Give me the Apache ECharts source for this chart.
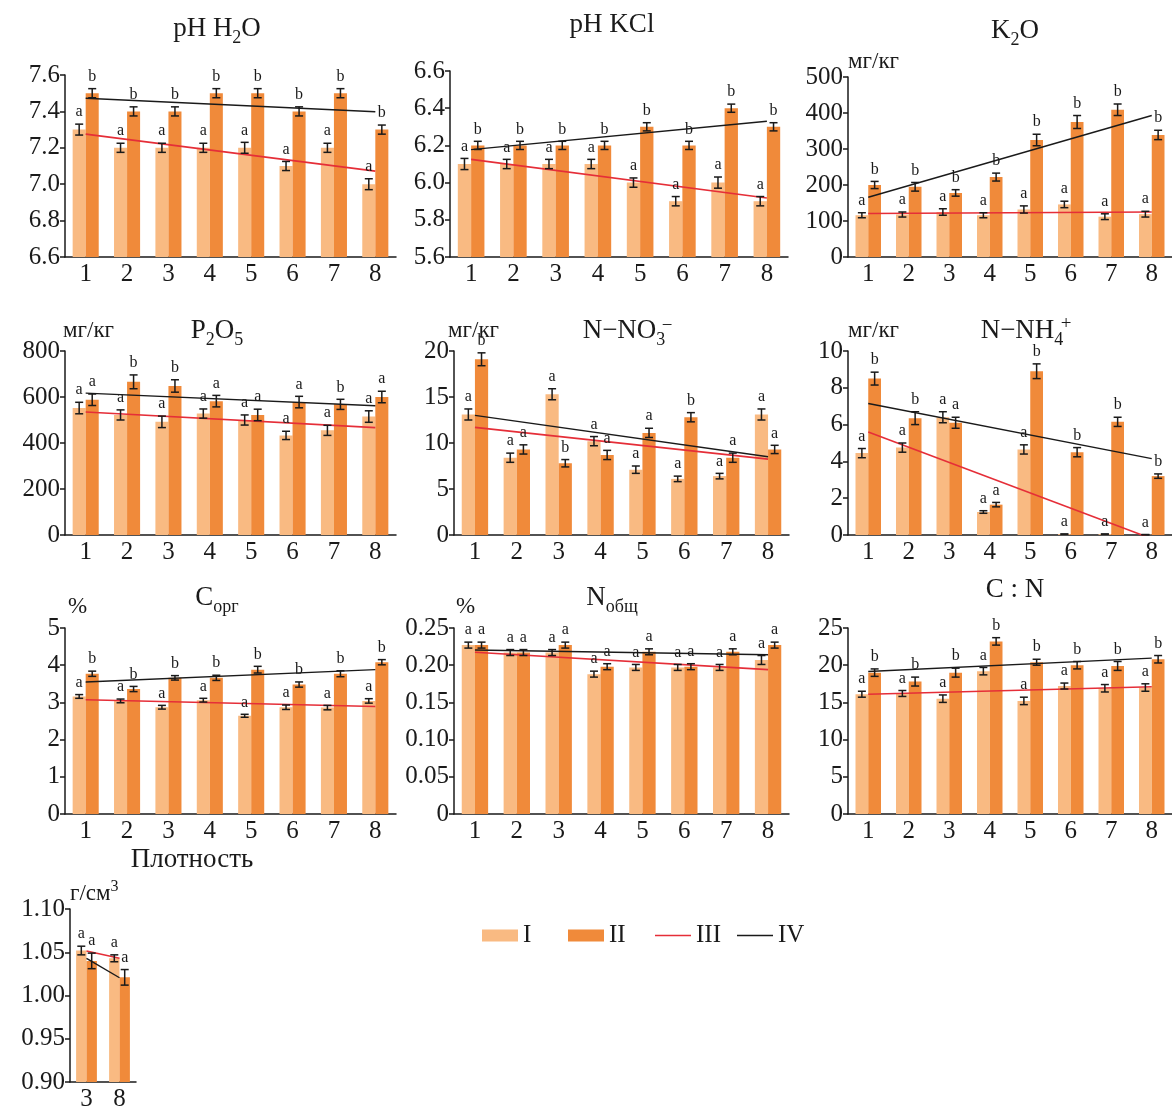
<!DOCTYPE html>
<html><head><meta charset="utf-8">
<script src="https://cdn.jsdelivr.net/npm/echarts@6/dist/echarts.min.js"></script>
<style>html,body{margin:0;padding:0;background:#fff}#c{width:1172px;height:1112px}</style>
</head><body><div id="c"></div>
<script>
// ---------- DATA ----------
const cats = ['1','2','3','4','5','6','7','8'];
const densityCats = ['3','8'];

// pH H2O
const phH2O_I = [7.3,7.2,7.2,7.2,7.2,7.1,7.2,7.0];
const phH2O_II = [7.5,7.4,7.4,7.5,7.5,7.4,7.5,7.3];
const phH2O_errI = [0.03,0.025,0.025,0.025,0.03,0.025,0.025,0.03];
const phH2O_errII = [0.025,0.025,0.025,0.025,0.025,0.025,0.025,0.025];
const phH2O_letI = ['a','a','a','a','a','a','a','a'];
const phH2O_letII = ['b','b','b','b','b','b','b','b'];
const phH2O_III = [7.275, 7.072];
const phH2O_IV = [7.472, 7.398];

// pH KCl
const phKCl_I = [6.1,6.1,6.1,6.1,6.0,5.9,6.0,5.9];
const phKCl_II = [6.2,6.2,6.2,6.2,6.3,6.2,6.4,6.3];
const phKCl_errI = [0.03,0.025,0.025,0.025,0.025,0.025,0.03,0.025];
const phKCl_errII = [0.022,0.022,0.022,0.022,0.022,0.022,0.022,0.022];
const phKCl_letI = ['a','a','a','a','a','a','a','a'];
const phKCl_letII = ['b','b','b','b','b','b','b','b'];
const phKCl_III = [6.125, 5.917];
const phKCl_IV = [6.177, 6.330];

// K2O, mg/kg
const k2o_I = [116,118,125,116,132,146,112,119];
const k2o_II = [200,195,178,222,325,375,409,339];
const k2o_errI = [7,7,9,7,10,9,8,8];
const k2o_errII = [10,12,9,11,16,18,16,13];
const k2o_letI = ['a','a','a','a','a','a','a','a'];
const k2o_letII = ['b','b','b','b','b','b','b','b'];
const k2o_III = [121, 125];
const k2o_IV = [166, 393];

// P2O5, mg/kg
const p2o5_I = [552,522,492,528,500,433,455,515];
const p2o5_II = [588,666,648,582,522,578,568,600];
const p2o5_errI = [25,22,25,20,22,18,22,25];
const p2o5_errII = [25,30,27,25,25,25,22,25];
const p2o5_letI = ['a','a','a','a','a','a','a','a'];
const p2o5_letII = ['a','b','b','a','a','a','b','a'];
const p2o5_III = [535, 467];
const p2o5_IV = [617, 562];

// N-NO3, mg/kg
const no3_I = [13.1,8.4,15.3,10.2,7.1,6.1,6.4,13.1];
const no3_II = [19.1,9.3,7.8,8.7,11.1,12.8,8.4,9.3];
const no3_errI = [0.6,0.5,0.6,0.5,0.4,0.3,0.3,0.6];
const no3_errII = [0.7,0.5,0.4,0.5,0.5,0.5,0.5,0.45];
const no3_letI = ['a','a','a','a','a','a','a','a'];
const no3_letII = ['b','a','b','a','a','b','a','a'];
const no3_III = [11.7, 8.25];
const no3_IV = [13.0, 8.5];

// N-NH4, mg/kg
const nh4_I = [4.45,4.75,6.4,1.25,4.65,0.05,0.05,0.02];
const nh4_II = [8.5,6.35,6.1,1.65,8.9,4.5,6.15,3.2];
const nh4_errI = [0.25,0.25,0.3,0.07,0.25,0,0,0];
const nh4_errII = [0.35,0.35,0.3,0.12,0.4,0.25,0.25,0.12];
const nh4_letI = ['a','a','a','a','a','a','a','a'];
const nh4_letII = ['b','b','a','a','b','b','b','b'];
const nh4_III = [5.6, -0.2];
const nh4_IV = [7.15, 4.15];

// C org, %
const corg_I = [3.16,3.04,2.87,3.06,2.64,2.87,2.86,3.04];
const corg_II = [3.77,3.36,3.66,3.66,3.88,3.48,3.77,4.08];
const corg_errI = [0.05,0.05,0.05,0.05,0.04,0.06,0.06,0.06];
const corg_errII = [0.07,0.07,0.06,0.07,0.09,0.07,0.08,0.07];
const corg_letI = ['a','a','a','a','a','a','a','a'];
const corg_letII = ['b','b','b','b','b','b','b','b'];
const corg_III = [3.07, 2.89];
const corg_IV = [3.55, 3.88];

// N total, %
const ntot_I = [0.227,0.217,0.217,0.188,0.197,0.197,0.197,0.207];
const ntot_II = [0.227,0.217,0.227,0.198,0.218,0.198,0.218,0.227];
const ntot_errI = [0.004,0.004,0.004,0.004,0.004,0.004,0.004,0.006];
const ntot_errII = [0.004,0.004,0.004,0.004,0.004,0.004,0.004,0.004];
const ntot_letI = ['a','a','a','a','a','a','a','a'];
const ntot_letII = ['a','a','a','a','a','a','a','a'];
const ntot_III = [0.2175, 0.1940];
const ntot_IV = [0.2205, 0.2140];

// C : N
const cn_I = [16.1,16.2,15.5,19.2,15.2,17.2,16.9,17.0];
const cn_II = [19.0,17.8,19.0,23.2,20.4,20.0,19.9,20.8];
const cn_errI = [0.4,0.4,0.5,0.5,0.5,0.4,0.5,0.5];
const cn_errII = [0.5,0.6,0.6,0.5,0.4,0.5,0.6,0.5];
const cn_letI = ['a','a','a','a','a','a','a','a'];
const cn_letII = ['b','b','b','b','b','b','b','b'];
const cn_III = [16.1, 17.1];
const cn_IV = [19.15, 20.95];

// Density, g/cm3
const dens_I = [1.052, 1.043];
const dens_II = [1.040, 1.021];
const dens_errI = [0.005, 0.004];
const dens_errII = [0.009, 0.009];
const dens_letI = ['a','a'];
const dens_letII = ['a','a'];
const dens_III = [1.0515, 1.043];
const dens_IV = [1.043, 1.0205];

const legendNames = ['I','II','III','IV'];

// ---------- PANELS ----------
const panels = [
  {title:'pH H{sub|2}O', sup:null, unit:null, cats:cats, I:phH2O_I, II:phH2O_II, eI:phH2O_errI, eII:phH2O_errII, lI:phH2O_letI, lII:phH2O_letII, III:phH2O_III, IV:phH2O_IV, min:6.6, max:7.6, step:0.2, fmt:v=>v.toFixed(1)},
  {title:'pH KCl', sup:null, unit:null, cats:cats, I:phKCl_I, II:phKCl_II, eI:phKCl_errI, eII:phKCl_errII, lI:phKCl_letI, lII:phKCl_letII, III:phKCl_III, IV:phKCl_IV, min:5.6, max:6.6, step:0.2, fmt:v=>v.toFixed(1)},
  {title:'K{sub|2}O', sup:null, unit:'мг/кг', cats:cats, I:k2o_I, II:k2o_II, eI:k2o_errI, eII:k2o_errII, lI:k2o_letI, lII:k2o_letII, III:k2o_III, IV:k2o_IV, min:0, max:500, step:100, fmt:v=>String(Math.round(v))},
  {title:'P{sub|2}O{sub|5}', sup:null, unit:'мг/кг', cats:cats, I:p2o5_I, II:p2o5_II, eI:p2o5_errI, eII:p2o5_errII, lI:p2o5_letI, lII:p2o5_letII, III:p2o5_III, IV:p2o5_IV, min:0, max:800, step:200, fmt:v=>String(Math.round(v))},
  {title:'N−NO{sub|3}', sup:'−', unit:'мг/кг', cats:cats, I:no3_I, II:no3_II, eI:no3_errI, eII:no3_errII, lI:no3_letI, lII:no3_letII, III:no3_III, IV:no3_IV, min:0, max:20, step:5, fmt:v=>String(Math.round(v))},
  {title:'N−NH{sub|4}', sup:'+', unit:'мг/кг', cats:cats, I:nh4_I, II:nh4_II, eI:nh4_errI, eII:nh4_errII, lI:nh4_letI, lII:nh4_letII, III:nh4_III, IV:nh4_IV, min:0, max:10, step:2, fmt:v=>String(Math.round(v))},
  {title:'C{sub|орг}', sup:null, unit:'%', cats:cats, I:corg_I, II:corg_II, eI:corg_errI, eII:corg_errII, lI:corg_letI, lII:corg_letII, III:corg_III, IV:corg_IV, min:0, max:5, step:1, fmt:v=>String(Math.round(v))},
  {title:'N{sub|общ}', sup:null, unit:'%', cats:cats, I:ntot_I, II:ntot_II, eI:ntot_errI, eII:ntot_errII, lI:ntot_letI, lII:ntot_letII, III:ntot_III, IV:ntot_IV, min:0, max:0.25, step:0.05, fmt:v=>(Math.abs(v)<1e-9?'0':v.toFixed(2))},
  {title:'C : N', sup:null, unit:null, cats:cats, I:cn_I, II:cn_II, eI:cn_errI, eII:cn_errII, lI:cn_letI, lII:cn_letII, III:cn_III, IV:cn_IV, min:0, max:25, step:5, fmt:v=>String(Math.round(v))},
  {title:'Плотность', sup:null, unit:'г/см{sup|3}', cats:densityCats, I:dens_I, II:dens_II, eI:dens_errI, eII:dens_errII, lI:dens_letI, lII:dens_letII, III:dens_III, IV:dens_IV, min:0.9, max:1.1, step:0.05, fmt:v=>v.toFixed(2)}
];

// ---------- LAYOUT ----------
const layout = [
  {g:[65,75,331,182],  t:[217,11], s:null,      u:null},
  {g:[450,71,338,186], t:[612,11], s:null,      u:null},
  {g:[848,77,328,180], t:[1015,13], s:null,     u:[848,50]},
  {g:[65,351,331,184], t:[217,313], s:null,     u:[63,319]},
  {g:[454,351,335,184],t:[624,313], s:[667,317], u:[448,319]},
  {g:[848,351,331,184],t:[1022,313], s:[1066,315], u:[848,319]},
  {g:[65,628,331,186], t:[217,580], s:null,     u:[68,595]},
  {g:[454,628,335,186],t:[612,580], s:null,     u:[456,595]},
  {g:[848,628,328,186],t:[1015,576], s:null,    u:null},
  {g:[70,909,66,178],  t:[192,846], s:null,     u:[70,879]}
];
const legendPos = [482, 568, 655, 737];

const F = 'Liberation Serif';
const INK = '#1a1a1a';
const C_I = '#F9BA82', C_II = '#F08A3A', C_III = '#E52E38', C_IV = '#1a1a1a';
const richStyles = {
  sub:{fontSize:18, fontFamily:F, color:INK, padding:[18,0,0,0]}
};

const grid = [], xAxis = [], yAxis = [], series = [], title = [];

function errSeries(k, vals, errs, lets, side) {
  return {
    type:'custom', xAxisIndex:k, yAxisIndex:k, z:6, silent:true,
    data: vals.map((v,i)=>[i, v, errs[i]]),
    renderItem: (params, api) => {
      const i = api.value(0), v = api.value(1), e = api.value(2);
      const cw = api.size([1,0])[0];
      const c = api.coord([i, v]);
      const x = c[0] + side * cw * 0.1575;
      const yt = api.coord([i, v + e])[1], yb = api.coord([i, v - e])[1];
      const cap = 4;
      const st = {stroke:INK, lineWidth:1.5};
      return {type:'group', children:[
        {type:'line', shape:{x1:x,y1:yt,x2:x,y2:yb}, style:st},
        {type:'line', shape:{x1:x-cap,y1:yt,x2:x+cap,y2:yt}, style:st},
        {type:'line', shape:{x1:x-cap,y1:yb,x2:x+cap,y2:yb}, style:st},
        {type:'text', x:x, y:yt-4, style:{text:lets[params.dataIndex], fill:INK, font:'16px "Liberation Serif"', align:'center', verticalAlign:'bottom'}}
      ]};
    }
  };
}

panels.forEach((p, k) => {
  const L = layout[k];
  grid.push({left:L.g[0], top:L.g[1], width:L.g[2], height:L.g[3], containLabel:false});
  xAxis.push({type:'category', gridIndex:k, data:p.cats,
    axisLine:{lineStyle:{color:INK, width:1.5}}, axisTick:{show:false},
    axisLabel:{interval:0, fontFamily:F, fontSize:25, color:INK, margin:5}});
  yAxis.push({type:'value', gridIndex:k, min:p.min, max:p.max, interval:p.step,
    axisLine:{show:true, lineStyle:{color:INK, width:1.5}},
    axisTick:{show:true, length:5, lineStyle:{color:INK, width:1.5}},
    splitLine:{show:false},
    axisLabel:{fontFamily:F, fontSize:25, color:INK, margin:5, formatter:p.fmt}});
  series.push({type:'bar', name:legendNames[0], xAxisIndex:k, yAxisIndex:k, data:p.I, itemStyle:{color:C_I}, barGap:'0%', barCategoryGap:'37%', z:2});
  series.push({type:'bar', name:legendNames[1], xAxisIndex:k, yAxisIndex:k, data:p.II, itemStyle:{color:C_II}, barGap:'0%', barCategoryGap:'37%', z:2});
  const n = p.cats.length - 1;
  series.push({type:'line', name:legendNames[2], xAxisIndex:k, yAxisIndex:k, data:[[0,p.III[0]],[n,p.III[1]]], symbol:'none', lineStyle:{color:C_III, width:1.6}, itemStyle:{color:C_III}, z:4, silent:true, clip:true});
  series.push({type:'line', name:legendNames[3], xAxisIndex:k, yAxisIndex:k, data:[[0,p.IV[0]],[n,p.IV[1]]], symbol:'none', lineStyle:{color:C_IV, width:1.4}, itemStyle:{color:C_IV}, z:4, silent:true, clip:true});
  series.push(errSeries(k, p.I, p.eI, p.lI, -1));
  series.push(errSeries(k, p.II, p.eII, p.lII, 1));
  title.push({text:p.title, left:L.t[0], top:L.t[1], textAlign:'center', padding:0,
    textStyle:{fontFamily:F, fontSize:27, fontWeight:'normal', color:INK, rich:richStyles}});
  if (p.sup) {
    title.push({text:p.sup, left:L.s[0], top:L.s[1], textAlign:'center', padding:0,
      textStyle:{fontFamily:F, fontSize:19, fontWeight:'normal', color:INK}});
  }
  if (p.unit) {
    title.push({text:p.unit, left:L.u[0], top:L.u[1], padding:0,
      textStyle:{fontFamily:F, fontSize:23, fontWeight:'normal', color:INK,
        rich:{sup:{fontSize:16, fontFamily:F, color:INK, padding:[0,0,14,0]}}}});
  }
});

const lineIcon = 'path://M0,0H36V1.6H0Z';
const legend = legendNames.map((nm, j) => ({
  left:legendPos[j], top:923, itemWidth:36, itemHeight:12, itemGap:0, padding:0,
  symbolKeepAspect:true,
  textStyle:{fontFamily:F, fontSize:25, color:INK},
  data:[{name:nm, icon: j < 2 ? 'rect' : lineIcon}]
}));

const option = {
  animation:false,
  backgroundColor:'#fff',
  title: title,
  legend: legend,
  grid: grid, xAxis: xAxis, yAxis: yAxis, series: series
};

const chart = echarts.init(document.getElementById('c'), null, {renderer:'canvas'});
chart.setOption(option);
</script>
</body></html>
